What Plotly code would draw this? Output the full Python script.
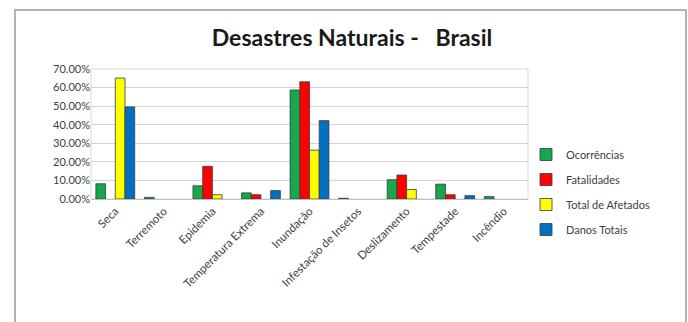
import plotly.graph_objects as go

categories = ["Seca", "Terremoto", "Epidemia", "Temperatura Extrema", "Inundação",
              "Infestação de Insetos", "Deslizamento", "Tempestade", "Incêndio"]
# None = no bar drawn for that category
ocorrencias = [0.082, 0.009, 0.071, 0.033, 0.587, 0.004, 0.104, 0.080, 0.013]
fatalidades = [None, None, 0.176, 0.023, 0.631, None, 0.129, 0.023, None]
afetados = [0.651, None, 0.023, None, 0.263, None, 0.051, None, None]
danos = [0.496, None, None, 0.045, 0.422, None, None, 0.018, None]

series_names = ["Ocorrências", "Fatalidades", "Total de Afetados", "Danos Totais"]
series_values = [ocorrencias, fatalidades, afetados, danos]
series_colors = ["#16a84a", "#ff0000", "#ffff00", "#0070c0"]
y_ticks = [0, 0.1, 0.2, 0.3, 0.4, 0.5, 0.6, 0.7]

FONT = "Lato"

fig = go.Figure()
for i, (name, vals, col) in enumerate(zip(series_names, series_values, series_colors)):
    fig.add_trace(go.Bar(
        x=categories, y=vals, name=name, legendgroup=f"g{i}",
        marker=dict(color=col, line=dict(color="#3a3a3a", width=0.8)),
    ))

# plot area pixel box: x 91..528, y 69..199
L, R, T, B = 91, 160, 69, 123
W, H = 688 - L - R, 322 - T - B

def px(x):
    return (x - L) / W

def py(y):
    return (322 - B - y) / H

fig.update_layout(
    width=688, height=322,
    margin=dict(l=L, r=R, t=T, b=B),
    paper_bgcolor="white", plot_bgcolor="white",
    barmode="group", bargap=0.2, bargroupgap=0.0,
    font=dict(family=FONT, color="#404040", size=11),
    title=dict(text="<b>Desastres Naturais -   Brasil</b>", x=px(352), xref="paper",
               xanchor="center", y=1 - 38 / 322, yanchor="middle",
               font=dict(family=FONT, size=23, color="#1a1a1a")),
    xaxis=dict(tickangle=-45, showline=True, linecolor="#bfbfbf", linewidth=1,
               ticks="", tickfont=dict(size=11.5, family=FONT, color="#404040")),
    yaxis=dict(range=[0, 0.7], tickvals=y_ticks, tickformat=".2%",
               showgrid=True, gridcolor="#d4d4d4", gridwidth=1,
               zeroline=False, ticks="", showline=False,
               tickfont=dict(size=11, family=FONT, color="#404040")),
    legend=dict(x=px(526), y=py(140), xanchor="left", yanchor="top",
                font=dict(size=11, family=FONT, color="#404040"),
                traceorder="grouped", tracegroupgap=6,
                itemwidth=30, bgcolor="rgba(0,0,0,0)"),
    shapes=[
        # outer chart frame
        dict(type="rect", xref="paper", yref="paper",
             x0=px(15), x1=px(686), y0=py(340), y1=py(10),
             line=dict(color="#b3b3b3", width=2), fillcolor="rgba(0,0,0,0)", layer="below"),
        # plot area border
        dict(type="rect", xref="paper", yref="paper", x0=0, x1=1, y0=0, y1=1,
             line=dict(color="#d9d9d9", width=1), fillcolor="rgba(0,0,0,0)", layer="below"),
    ],
)

fig.write_html("out.html")
